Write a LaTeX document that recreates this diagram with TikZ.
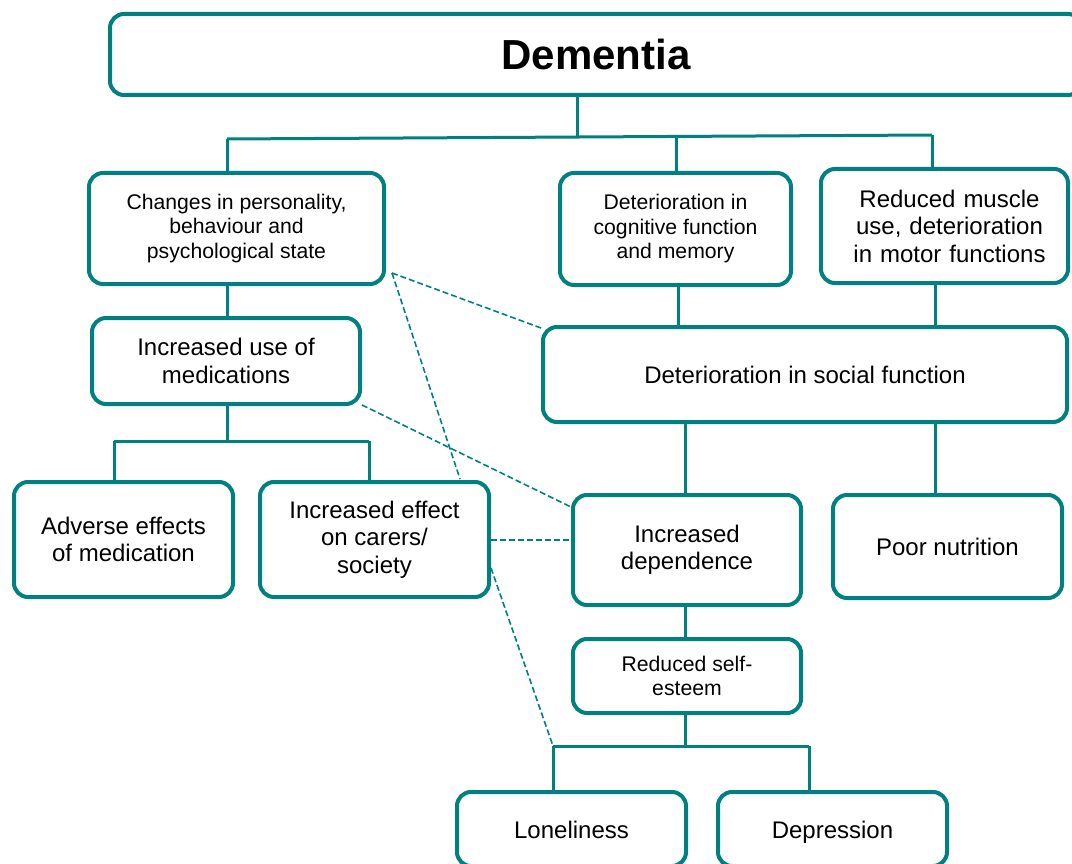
\documentclass[tikz,border=0pt]{standalone}
\usepackage{fontspec}
\setmainfont{Liberation Sans}
\definecolor{tl}{RGB}{0,128,128}
\begin{document}
\begin{tikzpicture}[x=1pt,y=-1pt,
  box/.style={draw=tl,line width=4pt,rounded corners=14pt,fill=white,align=center,inner sep=2pt,
    font=\fontsize{24}{27.5}\selectfont},
  one/.style={text height=20pt,text depth=2pt},
  sbox/.style={box,font=\fontsize{21.2}{24.5}\selectfont},
  conn/.style={draw=tl,line width=3pt},
  dsh/.style={draw=tl,line width=1.6pt,dash pattern=on 6pt off 3pt}]
\clip (0,0) rectangle (1072,864);
\useasboundingbox (0,0) rectangle (1072,864);
\fill[white] (0,0) rectangle (1072,864);

% junction coordinates
\coordinate (j1) at (577,137);
\coordinate (b1) at (227,139);
\coordinate (b2) at (676,137);
\coordinate (b3) at (932,135);
\coordinate (j2) at (227,441);
\coordinate (b4) at (114,441);
\coordinate (b5) at (369,441);
\coordinate (j3) at (685,746);
\coordinate (b6) at (553,746);
\coordinate (b7) at (809,746);
\coordinate (d0) at (392,273);
\coordinate (dsoc) at (541,328);
\coordinate (dcar) at (460,479);
\coordinate (dmed) at (362,405);
\coordinate (ddep) at (571,507);
\coordinate (dcr) at (491,540);
\coordinate (dcr2) at (491,568);

% connectors (drawn first)
\draw[conn] (j1) -- ++(0,-45);
\draw[conn] (b1) -- (b3);
\draw[conn] (b1) -- ++(0,40);
\draw[conn] (b2) -- ++(0,40);
\draw[conn] (b3) -- ++(0,40);
\draw[conn] (227,280) -- (227,320);
\draw[conn] (678,280) -- (678,330);
\draw[conn] (935,280) -- (935,330);
\draw[conn] (227,400) -- (j2);
\draw[conn] (b4) -- (b5);
\draw[conn] (b4) -- ++(0,45);
\draw[conn] (b5) -- ++(0,45);
\draw[conn] (685,420) -- (685,498);
\draw[conn] (935,420) -- (935,498);
\draw[conn] (685,600) -- (685,642);
\draw[conn] (685,710) -- (j3);
\draw[conn] (b6) -- (b7);
\draw[conn] (b6) -- ++(0,50);
\draw[conn] (b7) -- ++(0,50);

% boxes
\node[box,minimum width=972,minimum height=81,font=\fontsize{42}{48}\selectfont\bfseries] (dem) at (596,54.5) {Dementia};
\node[sbox,minimum width=295,minimum height=111] (c1) at (236.5,228.5) {Changes in personality,\\behaviour and\\psychological state};
\node[sbox,minimum width=231,minimum height=112] (c2) at (675.5,229) {Deterioration in\\cognitive function\\and memory};
\node[box,minimum width=247,minimum height=114,text width=240] (c3) at (944.5,226) {\hspace*{10pt}Reduced muscle\\\hspace*{10pt}use, deterioration\\\hspace*{10pt}in motor functions};
\node[box,one,minimum width=524,minimum height=95] (soc) at (805,374.5) {Deterioration in social function};
\node[box,minimum width=268,minimum height=86] (med) at (226,361) {Increased use of\\medications};
\node[box,minimum width=219,minimum height=115] (adv) at (123.5,539.5) {Adverse effects\\of medication};
\node[box,minimum width=229,minimum height=115] (car) at (374.5,539.5) {Increased effect\\on carers/\\society};
\node[box,minimum width=228,minimum height=110] (dep) at (687,550) {Increased\\dependence};
\node[box,one,minimum width=229,minimum height=103] (nut) at (947.5,546.5) {Poor nutrition};
\node[sbox,minimum width=228,minimum height=74] (est) at (687,676) {Reduced self-\\esteem};
\node[box,one,minimum width=229,minimum height=74] (lon) at (571.5,829) {Loneliness};
\node[box,one,minimum width=229,minimum height=74] (dpr) at (832.5,829) {Depression};

% dashed links
\draw[dsh] (d0) -- (dsoc);
\draw[dsh] (d0) -- (dcar);
\draw[dsh] (dmed) -- (ddep);
\draw[dsh] (dcr) -- (dcr -| dep.west);
\draw[dsh] (dcr2) -- (b6);
\end{tikzpicture}
\end{document}
